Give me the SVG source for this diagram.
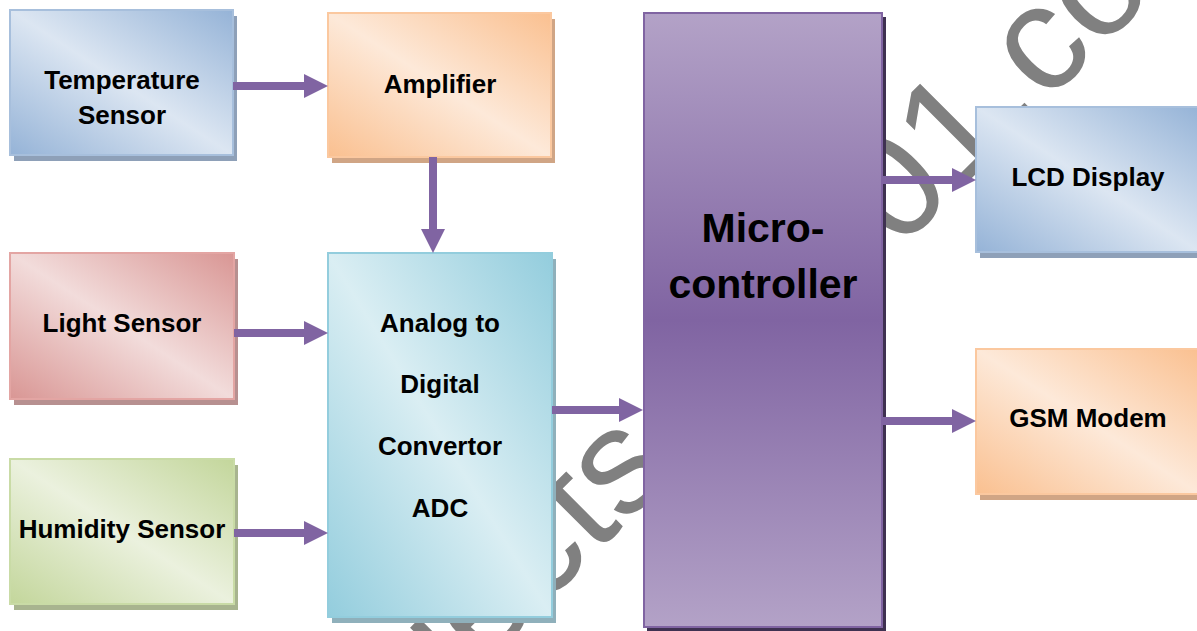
<svg xmlns="http://www.w3.org/2000/svg" width="1197" height="631" viewBox="0 0 1197 631">
<defs>
<style>
.lbl{font-family:"Liberation Sans",Arial,sans-serif;font-weight:bold;font-size:26px;text-anchor:middle;fill:#000}
.big{font-family:"Liberation Sans",Arial,sans-serif;font-weight:bold;font-size:41px;text-anchor:middle;fill:#000}
.wm{font-family:"Liberation Sans",Arial,sans-serif;font-size:150px;fill:#808080}
.conn{stroke:#8064a2;stroke-width:8;fill:none;marker-end:url(#ah)}
</style>
<marker id="ah" markerUnits="userSpaceOnUse" markerWidth="24" markerHeight="24" viewBox="0 0 24 24" refX="2" refY="12" orient="auto">
<path d="M0,0 L24,12 L0,24 Z" fill="#8064a2"/>
</marker>
<linearGradient id="gBlue" x1="1" y1="0" x2="0" y2="1">
<stop offset="0" stop-color="#95b3d7"/><stop offset="0.5" stop-color="#dce6f2"/><stop offset="1" stop-color="#95b3d7"/>
</linearGradient>
<linearGradient id="gOrange" x1="1" y1="0" x2="0" y2="1">
<stop offset="0" stop-color="#fac090"/><stop offset="0.5" stop-color="#fde9d9"/><stop offset="1" stop-color="#fac090"/>
</linearGradient>
<linearGradient id="gRed" x1="1" y1="0" x2="0" y2="1">
<stop offset="0" stop-color="#d99694"/><stop offset="0.5" stop-color="#f2dcdb"/><stop offset="1" stop-color="#d99694"/>
</linearGradient>
<linearGradient id="gGreen" x1="1" y1="0" x2="0" y2="1">
<stop offset="0" stop-color="#c3d69b"/><stop offset="0.5" stop-color="#ebf1de"/><stop offset="1" stop-color="#c3d69b"/>
</linearGradient>
<linearGradient id="gCyan" x1="1" y1="0" x2="0" y2="1">
<stop offset="0" stop-color="#93cddd"/><stop offset="0.5" stop-color="#daeef3"/><stop offset="1" stop-color="#93cddd"/>
</linearGradient>
<linearGradient id="gPurple" x1="0" y1="0" x2="0" y2="1">
<stop offset="0" stop-color="#b3a2c7"/><stop offset="0.5" stop-color="#8064a2"/><stop offset="1" stop-color="#b3a2c7"/>
</linearGradient>
</defs>
<rect width="1197" height="631" fill="#fff"/>

<g id="watermark">
<text class="wm" transform="rotate(-45)" x="-164" y="813">jects</text>
<text class="wm" transform="rotate(-45)" x="457" y="813">01.co</text>
</g>

<g id="temperature-sensor">
<rect x="14" y="16" width="223" height="145" fill="#8ea0b8"/>
<rect x="10" y="10" width="223" height="145" fill="url(#gBlue)" stroke="#a7bfdc" stroke-width="2"/>
<text class="lbl" x="122" y="89">Temperature</text>
<text class="lbl" x="122" y="124">Sensor</text>
</g>

<g id="amplifier">
<rect x="332" y="19" width="223" height="144" fill="#d0a585"/>
<rect x="328" y="13" width="223" height="144" fill="url(#gOrange)" stroke="#fbc89f" stroke-width="2"/>
<text class="lbl" x="440" y="93">Amplifier</text>
</g>

<g id="light-sensor">
<rect x="14" y="259" width="224" height="146" fill="#b79090"/>
<rect x="10" y="253" width="224" height="146" fill="url(#gRed)" stroke="#e3a5a3" stroke-width="2"/>
<text class="lbl" x="122" y="332">Light Sensor</text>
</g>

<g id="humidity-sensor">
<rect x="14" y="465" width="224" height="145" fill="#a8b48f"/>
<rect x="10" y="459" width="224" height="145" fill="url(#gGreen)" stroke="#c9dba6" stroke-width="2"/>
<text class="lbl" x="122" y="538">Humidity Sensor</text>
</g>

<g id="adc">
<rect x="332" y="259" width="224" height="364" fill="#8fb0bb"/>
<rect x="328" y="253" width="224" height="364" fill="url(#gCyan)" stroke="#93cddd" stroke-width="2"/>
<text class="lbl" x="440" y="332">Analog to</text>
<text class="lbl" x="440" y="393">Digital</text>
<text class="lbl" x="440" y="455">Convertor</text>
<text class="lbl" x="440" y="517">ADC</text>
</g>

<g id="microcontroller">
<rect x="647" y="17" width="239" height="614" fill="#3f3151"/>
<rect x="644" y="13" width="238" height="614" fill="url(#gPurple)" stroke="#8064a2" stroke-width="2"/>
<text class="big" x="763" y="242">Micro-</text>
<text class="big" x="763" y="298">controller</text>
</g>

<g id="lcd-display">
<rect x="980" y="113" width="224" height="145" fill="#8ea0b8"/>
<rect x="976" y="107" width="224" height="145" fill="url(#gBlue)" stroke="#a7bfdc" stroke-width="2"/>
<text class="lbl" x="1088" y="186">LCD Display</text>
</g>

<g id="gsm-modem">
<rect x="980" y="355" width="224" height="145" fill="#d0a585"/>
<rect x="976" y="349" width="224" height="145" fill="url(#gOrange)" stroke="#fbc89f" stroke-width="2"/>
<text class="lbl" x="1088" y="427">GSM Modem</text>
</g>

<g id="connectors">
<line class="conn" x1="233" y1="86" x2="306" y2="86"/>
<line class="conn" x1="433" y1="157" x2="433" y2="231"/>
<line class="conn" x1="234" y1="333" x2="306" y2="333"/>
<line class="conn" x1="234" y1="533" x2="306" y2="533"/>
<line class="conn" x1="552" y1="410" x2="621" y2="410"/>
<line class="conn" x1="882" y1="180" x2="954" y2="180"/>
<line class="conn" x1="882" y1="421" x2="954" y2="421"/>
</g>
</svg>
